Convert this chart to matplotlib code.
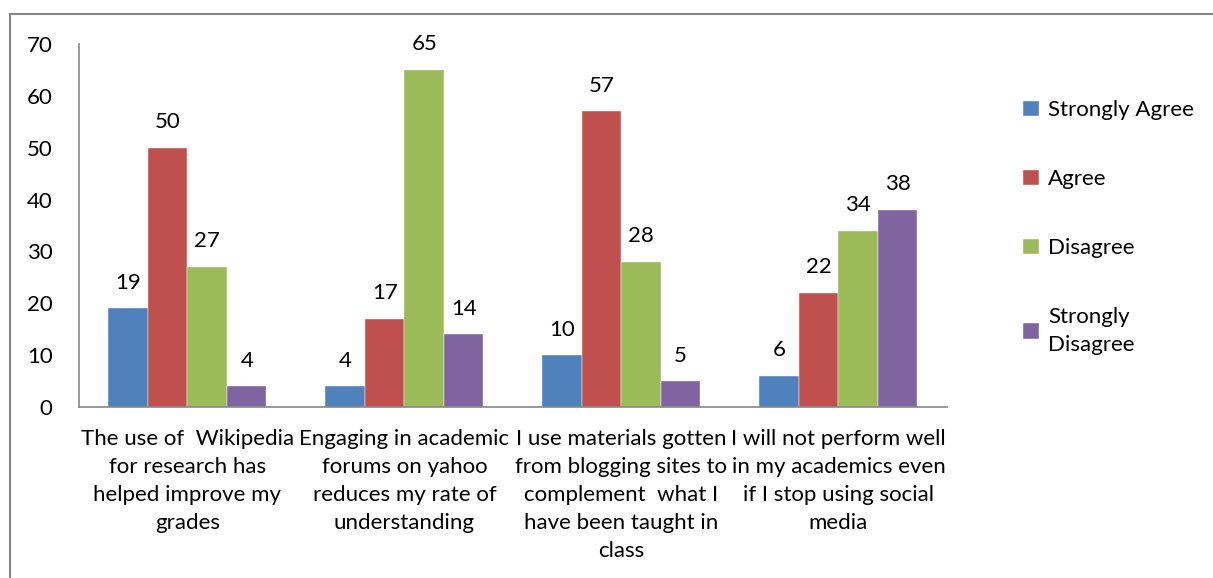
import matplotlib
matplotlib.use("Agg")
import matplotlib.pyplot as plt
import numpy as np
from matplotlib.lines import Line2D

categories = [
    "The use of  Wikipedia\nfor research has\nhelped improve my\ngrades",
    "Engaging in academic\nforums on yahoo\nreduces my rate of\nunderstanding",
    "I use materials gotten\nfrom blogging sites to\ncomplement  what I\nhave been taught in\nclass",
    "I will not perform well\nin my academics even\nif I stop using social\nmedia",
]
series_names = ["Strongly Agree", "Agree", "Disagree", "Strongly\nDisagree"]
strongly_agree = [19, 4, 10, 6]
agree = [50, 17, 57, 22]
disagree = [27, 65, 28, 34]
strongly_disagree = [4, 14, 5, 38]
colors = ["#4F81BD", "#C0504D", "#9BBB59", "#8064A2"]

plt.rcParams['font.family'] = ['Lato', 'DejaVu Sans']

fig = plt.figure(figsize=(12.13, 5.78), dpi=100)
ax = fig.add_axes([0.0651, 0.2958, 0.7156, 0.6281])

series = [strongly_agree, agree, disagree, strongly_disagree]
x = np.arange(len(categories))
w = 0.182
fs = 16
for i, (vals, name, c) in enumerate(zip(series, series_names, colors)):
    pos = x + (i - 1.5) * w
    ax.bar(pos, vals, w, color=c, label=name, edgecolor='white', linewidth=0.3)
    for p, v in zip(pos, vals):
        ax.text(p, v + 3.0, str(v), ha='center', va='bottom', fontsize=fs)

ax.set_xlim(-0.5, len(categories) - 0.5)
ax.set_ylim(0, 70)
ax.set_yticks(range(0, 71, 10))
ax.tick_params(axis='both', length=0, labelsize=fs)
ax.tick_params(axis='y', pad=19)
ax.set_xticks(x)
ax.set_xticklabels(categories, fontsize=fs, linespacing=1.5)
ax.tick_params(axis='x', pad=16)
for s in ['top', 'right']:
    ax.spines[s].set_visible(False)
for s in ['left', 'bottom']:
    ax.spines[s].set_color('#868686')
    ax.spines[s].set_linewidth(1.2)

leg = ax.legend(loc='upper left', bbox_to_anchor=(1.065, 0.9), frameon=False,
                fontsize=fs, handlelength=0.7, handleheight=0.7, handletextpad=0.4,
                labelspacing=2.2)
for t in leg.get_texts():
    t.set_linespacing(1.5)

# outer chart border
fig.add_artist(Line2D([10/1213, 10/1213], [0, 1 - 14/578], transform=fig.transFigure,
                      color='#868686', lw=1.5))
fig.add_artist(Line2D([10/1213, 1], [1 - 14/578, 1 - 14/578], transform=fig.transFigure,
                      color='#868686', lw=1.5))

fig.savefig("out.png", dpi=100)
